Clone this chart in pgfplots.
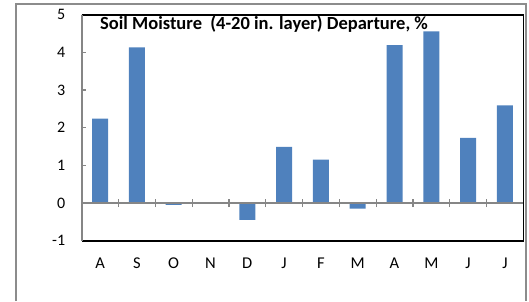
\documentclass[border=0pt]{standalone}
\usepackage{pgfplots}
\pgfplotsset{compat=1.18}
\usepackage{fontspec}
\setmainfont{Carlito}
\definecolor{barblue}{HTML}{4F81BD}
\definecolor{axgray}{HTML}{868686}
\definecolor{framegray}{HTML}{8C8C8C}
\begin{document}
\begin{tikzpicture}[x=1pt,y=1pt]
\useasboundingbox (0,0) rectangle (529,301);
\draw[framegray, line width=2pt] (16,0) -- (16,297) -- (525.5,297) -- (525.5,0);
\begin{axis}[
  name=ax,
  at={(81.7pt,60.3pt)}, anchor=south west,
  scale only axis, width=441.6pt, height=226pt,
  xmin=-0.5, xmax=11.5, ymin=-1, ymax=5,
  axis line style={draw=none},
  xtick={0,...,11},
  xticklabels={A,S,O,N,D,J,F,M,A,M,J,J},
  x tick label style={font=\fontsize{16.5}{16.5}\selectfont, yshift=-10pt},
  ytick={-1,0,...,5},
  y tick label style={font=\fontsize{16}{16}\selectfont, xshift=-13pt},
  /pgf/number format/assume math mode=true,
  major x tick style={draw=none},
  major tick length=4pt,
  y tick style={axgray, line width=1.2pt},
  tick align=inside,
  ytick pos=left,
  ybar, bar width=16pt,
  clip=false,
]
\addplot[fill=barblue, draw=none, bar shift=0pt] coordinates {
 (0,2.24) (1,4.13) (2,-0.05) (3,0) (4,-0.45) (5,1.49)
 (6,1.15) (7,-0.15) (8,4.19) (9,4.56) (10,1.73) (11,2.59)};
\draw[axgray, line width=1.2pt] (axis cs:-0.5,0) -- (axis cs:11.5,0);
\pgfplotsinvokeforeach{0.5,1.5,...,10.5}{
  \draw[axgray, line width=1.2pt] ([yshift=-4pt]axis cs:#1,0) -- ([yshift=4pt]axis cs:#1,0);
}
\draw[black, line width=1.6pt] (rel axis cs:0,1) -- (rel axis cs:1,1) -- (rel axis cs:1,0) -- (rel axis cs:0,0);
\draw[axgray, line width=1.6pt] (rel axis cs:0,0) -- (rel axis cs:0,1);
\end{axis}
\node[anchor=base west, inner sep=0, font=\bfseries\fontsize{18.5}{18.5}\selectfont] at ([xshift=18.3pt, yshift=-15pt]ax.north west) {Soil Moisture\ \ (4-20 in. layer) Departure, \%};
\end{tikzpicture}
\end{document}
